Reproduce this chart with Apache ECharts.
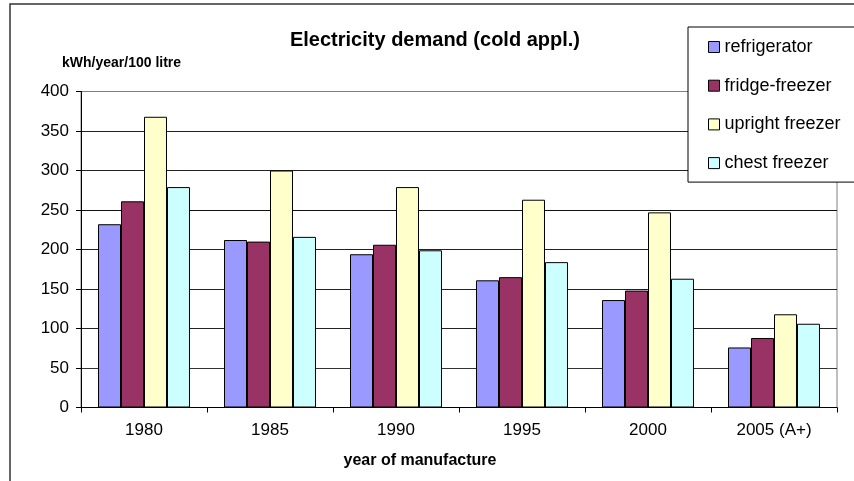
<!DOCTYPE html>
<html>
<head>
<meta charset="utf-8">
<script src="https://cdn.jsdelivr.net/npm/echarts@6/dist/echarts.min.js"></script>
<style>
  html, body { margin: 0; padding: 0; background: #fff; }
  #chart { width: 854px; height: 481px; }
</style>
</head>
<body>
<div id="chart"></div>
<script>
// Specific electricity demand of cold appliances by year of manufacture
const years = ['1980', '1985', '1990', '1995', '2000', '2005 (A+)'];
const refrigerator = [232, 212, 194, 161, 136, 76];
const fridgeFreezer = [261, 210, 206, 165, 148, 88];
const uprightFreezer = [368, 300, 279, 263, 247, 118];
const chestFreezer = [279, 216, 199, 184, 163, 106];
const yTicks = [0, 50, 100, 150, 200, 250, 300, 350, 400];

const FONT = '"Liberation Sans", Arial, sans-serif';

const chart = echarts.init(document.getElementById('chart'), null, { renderer: 'canvas' });

function bar(name, data, color) {
  return {
    name: name,
    type: 'bar',
    data: data,
    barGap: '0%',
    barCategoryGap: '27%',
    itemStyle: { color: color, borderColor: '#000', borderWidth: 1 },
    emphasis: { disabled: true }
  };
}

chart.setOption({
  animation: false,
  backgroundColor: '#fff',
  textStyle: { fontFamily: FONT },
  title: {
    text: 'Electricity demand (cold appl.)',
    left: 430,
    textAlign: 'center',
    top: 25,
    textStyle: { fontFamily: FONT, fontSize: 20, fontWeight: 'bold', color: '#000' }
  },
  graphic: [
    // outer chart frame
    {
      type: 'rect',
      shape: { x: 10, y: 4, width: 900, height: 600 },
      style: { fill: null, stroke: '#333', lineWidth: 1.5 },
      z: -1
    },
    // y-axis name
    {
      type: 'text',
      left: 62,
      top: 56,
      style: { text: 'kWh/year/100 litre', font: 'bold 14px ' + FONT, fill: '#000' }
    }
  ],
  legend: {
    orient: 'vertical',
    left: 688,
    top: 27,
    padding: [11, 60, 10, 20],
    itemGap: 20.7,
    itemWidth: 11,
    itemHeight: 11,
    backgroundColor: '#fff',
    borderColor: '#000',
    borderWidth: 1,
    icon: 'rect',
    itemStyle: { borderColor: '#000', borderWidth: 1 },
    textStyle: { fontFamily: FONT, fontSize: 18, color: '#000' },
    data: ['refrigerator', 'fridge-freezer', 'upright freezer', 'chest freezer']
  },
  grid: {
    left: 81,
    right: 17,
    top: 91.5,
    bottom: 73.5,
    show: true,
    borderColor: '#808080',
    borderWidth: 1,
    backgroundColor: 'transparent'
  },
  xAxis: {
    type: 'category',
    data: years,
    name: 'year of manufacture',
    nameLocation: 'middle',
    nameGap: 45,
    nameTextStyle: { fontFamily: FONT, fontSize: 16, fontWeight: 'bold', color: '#000', padding: [0, 0, 0, -78] },
    axisLine: { lineStyle: { color: '#000', width: 1 } },
    axisTick: { show: true, length: 5, lineStyle: { color: '#000' } },
    axisLabel: { fontFamily: FONT, fontSize: 17, color: '#000', margin: 14 }
  },
  yAxis: {
    type: 'value',
    min: yTicks[0],
    max: yTicks[yTicks.length - 1],
    interval: yTicks[1] - yTicks[0],
    axisLine: { show: true, lineStyle: { color: '#000', width: 1 } },
    axisTick: { show: true, length: 5, lineStyle: { color: '#000' } },
    axisLabel: { fontFamily: FONT, fontSize: 17, color: '#000', margin: 12 },
    splitLine: {
      show: true,
      lineStyle: { color: ['#000', '#333', '#222', '#222', '#222', '#111', '#222', '#222', '#808080'], width: 1 }
    }
  },
  series: [
    bar('refrigerator', refrigerator, '#9999FF'),
    bar('fridge-freezer', fridgeFreezer, '#993366'),
    bar('upright freezer', uprightFreezer, '#FFFFCC'),
    bar('chest freezer', chestFreezer, '#CCFFFF')
  ]
});
</script>
</body>
</html>
